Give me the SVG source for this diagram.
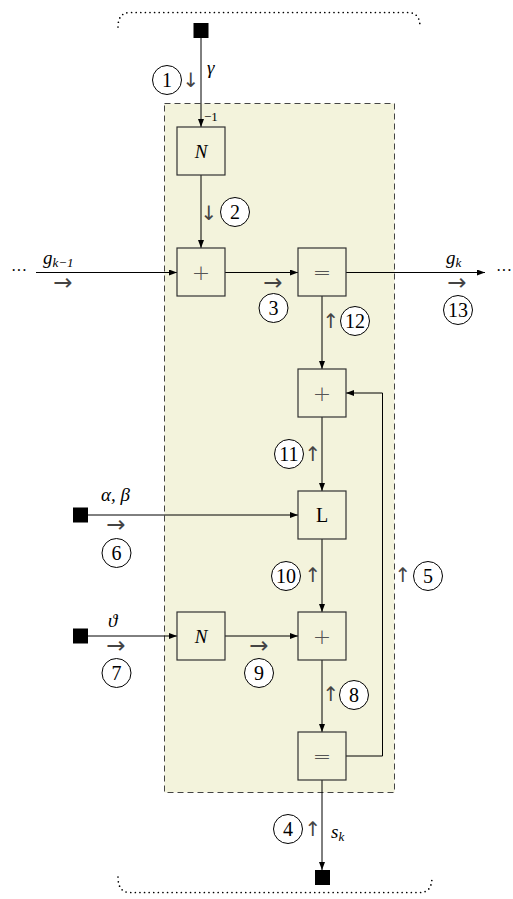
<svg xmlns="http://www.w3.org/2000/svg" width="513" height="899" viewBox="0 0 513 899">
<style>
.box{fill:none;stroke:#333;stroke-width:1.2}
.src{fill:#000}
.ln{fill:none;stroke:#000;stroke-width:1}
.dot{fill:none;stroke:#000;stroke-width:1.7;stroke-linecap:round;stroke-dasharray:0 4.6}
.cir{fill:#fff;stroke:#000;stroke-width:1}
.num{font-family:"Liberation Serif","DejaVu Serif",serif;font-size:20px;text-anchor:middle;fill:#000}
.m{font-family:"Liberation Serif","DejaVu Serif",serif;font-style:italic;font-size:19px;fill:#000}
.sub{font-size:13px}
.ar{font-family:"DejaVu Sans","Liberation Sans",sans-serif;font-size:20px;text-anchor:middle;fill:#444}
.arh{font-family:"DejaVu Sans","Liberation Sans",sans-serif;font-size:23px;text-anchor:middle;fill:#444}
.sym{font-family:"DejaVu Sans","Liberation Sans",sans-serif;font-size:22px;font-weight:300;text-anchor:middle;fill:#555}
</style>
<defs>
<marker id="ah" markerUnits="userSpaceOnUse" markerWidth="8" markerHeight="6" refX="8" refY="3" orient="auto">
<path d="M0,0 L8,3 L0,6 z" fill="#000"/>
</marker>
</defs>
<rect width="513" height="899" fill="#fff"/>
<g id="frame">
<path class="dot" d="M118 27 Q118 12.5 130 12.5 H408 Q420 12.5 420 27"/>
<path class="dot" d="M118 877 Q118 892.5 130 892.5 H420 Q432 892.5 432 877"/>
<rect x="164.5" y="103.5" width="230" height="689" fill="#f3f3dc" stroke="#444" stroke-width="1" stroke-dasharray="6 4"/>
</g>
<g id="connectors">
<path class="ln" d="M201 38 V127" marker-end="url(#ah)"/>
<path class="ln" d="M201 175 V248" marker-end="url(#ah)"/>
<path class="ln" d="M36 272.5 H177" marker-end="url(#ah)"/>
<path class="ln" d="M225 272.5 H298" marker-end="url(#ah)"/>
<path class="ln" d="M346 272.5 H485" marker-end="url(#ah)"/>
<path class="ln" d="M322 296 V369" marker-end="url(#ah)"/>
<path class="ln" d="M322 417 V491" marker-end="url(#ah)"/>
<path class="ln" d="M88 515 H298" marker-end="url(#ah)"/>
<path class="ln" d="M322 539 V612" marker-end="url(#ah)"/>
<path class="ln" d="M88 636 H177" marker-end="url(#ah)"/>
<path class="ln" d="M225 636 H298" marker-end="url(#ah)"/>
<path class="ln" d="M322 660 V732" marker-end="url(#ah)"/>
<path class="ln" d="M322 780 V870" marker-end="url(#ah)"/>
<path class="ln" d="M346 756 H382.5 V393 H346" marker-end="url(#ah)"/>
</g>
<g id="src-gamma"><rect class="src" x="193.5" y="23" width="15" height="15"/></g>
<g id="src-ab"><rect class="src" x="73" y="507.5" width="15" height="15"/></g>
<g id="src-theta"><rect class="src" x="73" y="628.5" width="15" height="15"/></g>
<g id="sink-s"><rect class="src" x="315" y="870" width="15" height="15"/></g>
<g id="n-inv"><rect class="box" x="177" y="127" width="48" height="48"/><text class="m" x="201" y="158" text-anchor="middle" font-size="21">N</text><text x="204" y="121" font-family="Liberation Serif,serif" font-size="13">−1</text></g>
<g id="plus1"><rect class="box" x="177" y="248" width="48" height="48"/><text class="sym" x="201" y="280">+</text></g>
<g id="eq1"><rect class="box" x="298" y="248" width="48" height="48"/><text class="sym" x="322" y="280">=</text></g>
<g id="plus2"><rect class="box" x="298" y="369" width="48" height="48"/><text class="sym" x="322" y="401">+</text></g>
<g id="L"><rect class="box" x="298" y="491" width="48" height="48"/><text class="num" x="322" y="522" font-size="20">L</text></g>
<g id="n2"><rect class="box" x="177" y="612" width="48" height="48"/><text class="m" x="201" y="643" text-anchor="middle" font-size="21">N</text></g>
<g id="plus3"><rect class="box" x="298" y="612" width="48" height="48"/><text class="sym" x="322" y="644">+</text></g>
<g id="eq2"><rect class="box" x="298" y="732" width="48" height="48"/><text class="sym" x="322" y="764">=</text></g>
<g id="labels">
<text class="m" x="207" y="74">γ</text>
<text class="m" x="43" y="264">g<tspan class="sub" dy="3">k−1</tspan></text>
<text class="m" x="446" y="264">g<tspan class="sub" dy="3">k</tspan></text>
<text class="m" x="101" y="501">α, β</text>
<text class="m" x="108" y="627">ϑ</text>
<text class="m" x="331" y="838">s<tspan class="sub" dy="3">k</tspan></text>
<text x="11" y="276" font-family="Liberation Serif,serif" font-size="16">···</text>
<text x="496" y="276" font-family="Liberation Serif,serif" font-size="16">···</text>
</g>
<g id="arrows-small">
<text class="ar" x="191" y="87">↓</text>
<text class="ar" x="209" y="220">↓</text>
<text class="arh" x="63" y="290">→</text>
<text class="arh" x="273" y="290">→</text>
<text class="arh" x="457" y="290">→</text>
<text class="ar" x="331" y="328">↑</text>
<text class="ar" x="313" y="461">↑</text>
<text class="arh" x="116" y="532">→</text>
<text class="ar" x="313" y="582">↑</text>
<text class="ar" x="403" y="582">↑</text>
<text class="arh" x="116" y="653">→</text>
<text class="arh" x="259" y="653">→</text>
<text class="ar" x="331" y="701">↑</text>
<text class="ar" x="313" y="836">↑</text>
</g>
<g id="circles">
<g id="c1"><circle class="cir" cx="167" cy="80" r="14.5"/><text class="num" x="167" y="87">1</text></g>
<g id="c2"><circle class="cir" cx="235" cy="212" r="14.5"/><text class="num" x="235" y="219">2</text></g>
<g id="c3"><circle class="cir" cx="273.5" cy="308" r="14.5"/><text class="num" x="273.5" y="315">3</text></g>
<g id="c4"><circle class="cir" cx="288" cy="829" r="14.5"/><text class="num" x="288" y="836">4</text></g>
<g id="c5"><circle class="cir" cx="428" cy="576" r="14.5"/><text class="num" x="428" y="583">5</text></g>
<g id="c6"><circle class="cir" cx="116.5" cy="553" r="14.5"/><text class="num" x="116.5" y="560">6</text></g>
<g id="c7"><circle class="cir" cx="116.5" cy="673" r="14.5"/><text class="num" x="116.5" y="680">7</text></g>
<g id="c8"><circle class="cir" cx="354" cy="695" r="14.5"/><text class="num" x="354" y="702">8</text></g>
<g id="c9"><circle class="cir" cx="259" cy="673" r="14.5"/><text class="num" x="259" y="680">9</text></g>
<g id="c10"><circle class="cir" cx="286" cy="576" r="14.5"/><text class="num" x="286" y="583">10</text></g>
<g id="c11"><circle class="cir" cx="289" cy="454" r="14.5"/><text class="num" x="289" y="461">11</text></g>
<g id="c12"><circle class="cir" cx="355" cy="321" r="14.5"/><text class="num" x="355" y="328">12</text></g>
<g id="c13"><circle class="cir" cx="458" cy="310" r="14.5"/><text class="num" x="458" y="317">13</text></g>
</g>
</svg>
